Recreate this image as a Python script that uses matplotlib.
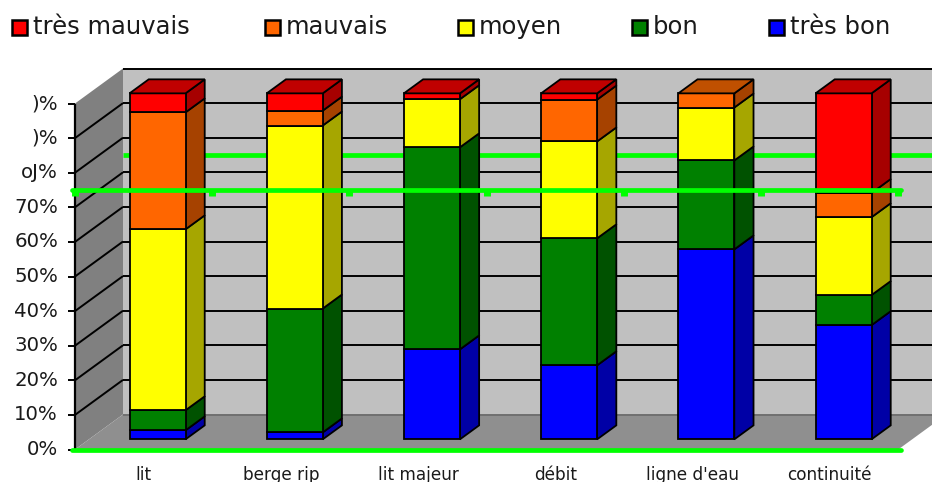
import matplotlib
matplotlib.use("Agg")
import matplotlib.pyplot as plt
from matplotlib.patches import Polygon

# Share of each quality class per compartment, percent
categories = ["lit", "berge rip", "lit majeur", "débit", "ligne d'eau", "continuité"]
class_names = ["très bon", "bon", "moyen", "mauvais", "très mauvais"]
tres_bon = [2.6, 2.0, 26.0, 21.4, 54.9, 33.0]
bon = [5.8, 35.8, 58.4, 36.7, 25.7, 8.7]
moyen = [52.3, 52.9, 13.9, 28.0, 15.3, 22.5]
mauvais = [33.8, 4.3, 0.0, 12.1, 4.1, 7.0]
tres_mauvais = [5.5, 5.0, 1.7, 1.8, 0.0, 28.8]
y_ticks = [0, 10, 20, 30, 40, 50, 60, 70, 80, 90, 100]
y_tick_labels = ["0%", "10%", "20%", "30%", "40%", "50%", "60%", "70%", "oJ%", ")%", ")%"]
threshold = 75

series = [tres_bon, bon, moyen, mauvais, tres_mauvais]
front_colors = ["#0000ff", "#008000", "#ffff00", "#ff6600", "#ff0000"]
side_colors = ["#0000a6", "#005200", "#a6a600", "#a64200", "#a60000"]
top_colors = ["#0000c0", "#006000", "#c0c000", "#c05000", "#c00000"]

W, H = 932, 482
X0, X_SCALE = 75.0, 137.2
Y0, Y_SCALE = 449.5, 3.46
DEPTH_X = 48 / X_SCALE
DEPTH_Y = 35 / Y_SCALE
BAR_WIDTH = 56 / X_SCALE
BAR_D0, BAR_D1 = 0.29, 0.69
N = len(categories)

fig = plt.figure(figsize=(W / 100, H / 100), dpi=100)
ax = fig.add_axes([0, 0, 1, 1])
ax.set_xlim(-X0 / X_SCALE, (W - X0) / X_SCALE)
ax.set_ylim(-(H - Y0) / Y_SCALE, Y0 / Y_SCALE)
ax.axis("off")
plt.rcParams["font.family"] = "DejaVu Sans"


def proj(x, y, d=0.0):
    """Oblique projection: d runs from the front plane (0) to the back wall (1)."""
    return (x + d * DEPTH_X, y + d * DEPTH_Y)


def poly(points, face, edge="none", lw=0.0, z=1):
    ax.add_patch(Polygon(points, closed=True, facecolor=face, edgecolor=edge,
                         linewidth=lw, zorder=z, joinstyle="miter", clip_on=True))


def line3d(p, q, color="black", lw=1.4, z=2):
    ax.plot([p[0], q[0]], [p[1], q[1]], color=color, lw=lw, zorder=z,
            solid_capstyle="butt")


# Walls and floor
poly([proj(0, 0, 1), proj(N, 0, 1), proj(N, 100, 1), proj(0, 100, 1)], "#c0c0c0", z=1)
poly([proj(0, 0), proj(0, 0, 1), proj(0, 100, 1), proj(0, 100)], "#808080", z=1)
poly([proj(0, 0), proj(N, 0), proj(N, 0, 1), proj(0, 0, 1)], "#8f8f8f", z=1.5)

# Gridlines along the side wall and the back wall
for t in y_ticks:
    grid_color = "#707070" if t == 0 else "black"
    line3d(proj(0, t, 1), proj(N, t, 1), color=grid_color, z=2)
    if 0 < t < 100:
        line3d(proj(0, t), proj(0, t, 1), z=2)
    ax.plot([proj(0, t)[0] - 7 / X_SCALE, proj(0, t)[0]], [t, t], color="black",
            lw=1.4, zorder=6, solid_capstyle="butt")
    ax.text(proj(0, t)[0] - 17 / X_SCALE, t, y_tick_labels[t // 10], ha="right",
            va="center", fontsize=14.2, color="#1a1a1a", zorder=7)
line3d(proj(0, 0), proj(0, 100), lw=1.6, z=6)

# Threshold on the back wall, hidden by the bars
line3d(proj(0, threshold, 1), proj(N, threshold, 1), color="#00ff00", lw=3.4, z=3)

# Stacked bars
for i, name in enumerate(categories):
    left = i + (1 - BAR_WIDTH) / 2
    right = left + BAR_WIDTH
    base = 0.0
    top_index = 0
    for k, values in enumerate(series):
        v = values[i]
        if v <= 0:
            continue
        y0, y1 = base, base + v
        poly([proj(right, y0, BAR_D0), proj(right, y0, BAR_D1),
              proj(right, y1, BAR_D1), proj(right, y1, BAR_D0)],
             side_colors[k], "black", 1.3, z=4 + k * 0.01)
        poly([proj(left, y0, BAR_D0), proj(right, y0, BAR_D0),
              proj(right, y1, BAR_D0), proj(left, y1, BAR_D0)],
             front_colors[k], "black", 1.3, z=4.1 + k * 0.01)
        base = y1
        top_index = k
    poly([proj(left, base, BAR_D0), proj(right, base, BAR_D0),
          proj(right, base, BAR_D1), proj(left, base, BAR_D1)],
         top_colors[top_index], "black", 1.3, z=4.2)
    ax.text(i + 0.5, -25 / Y_SCALE, name, ha="center", va="center", fontsize=12.2,
            color="#1a1a1a", zorder=7)

# Threshold and baseline on the front plane, drawn over the bars
for level in (threshold, 0):
    ax.plot([-3 / X_SCALE, N + 3 / X_SCALE], [level, level], color="#00ff00", lw=3.4,
            zorder=8, solid_capstyle="round")
for i in range(N + 1):
    ax.plot([i, i], [threshold, threshold - 6 / Y_SCALE], color="#00ff00", lw=5,
            zorder=8, solid_capstyle="butt")

# Legend strip above the plot
legend_x = [12, 265, 458, 632, 769]
for k, name in zip(range(4, -1, -1), class_names[::-1]):
    px = legend_x[4 - k]
    sx, sy = ax.transData.inverted().transform((px, H - 35))
    sx2, sy2 = ax.transData.inverted().transform((px + 15, H - 20))
    poly([(sx, sy), (sx2, sy), (sx2, sy2), (sx, sy2)], front_colors[k], "black", 1.8, z=7)
    tx, ty = ax.transData.inverted().transform((px + 21, H - 27))
    ax.text(tx, ty, name, ha="left", va="center", fontsize=17.5, color="#1a1a1a", zorder=7)

fig.savefig("out.png", dpi=100, facecolor="white")
